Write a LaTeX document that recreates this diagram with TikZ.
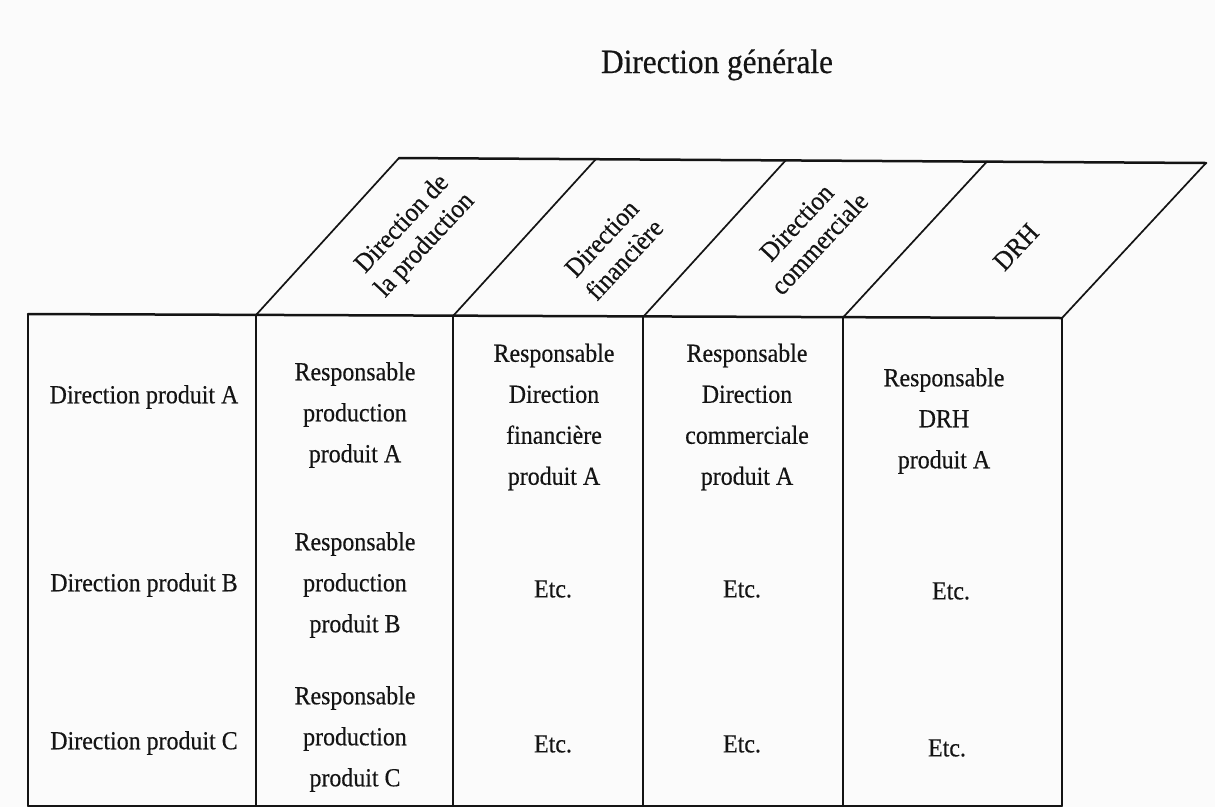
\documentclass[tikz,border=0pt]{standalone}
\usepackage{fontspec}
\setmainfont{Liberation Serif}[FakeStretch=0.92, FakeBold=0.4]
\definecolor{ink}{HTML}{141414}
\definecolor{paper}{HTML}{FBFBFB}
\begin{document}
\begin{tikzpicture}[x=1pt,y=-1pt,
  frame/.style={line width=1.7pt, draw=ink, line cap=round},
  edge/.style={line width=2.5pt, draw=ink, line cap=round},
  cell/.style={align=center, font=\fontsize{26}{41}\selectfont, text=ink, inner sep=0pt},
  head/.style={align=center, font=\fontsize{27}{31}\selectfont, text=ink, rotate=47, inner sep=0pt},
  titletext/.style={font=\fontsize{34}{40}\selectfont, text=ink, inner sep=0pt, anchor=base}]
% page
\fill[paper] (0,0) rectangle (1215,807);
\useasboundingbox (0,0) rectangle (1215,807);

% corners of the table front (top edge) and of the slanted top face
\coordinate (b0) at (28,314);
\coordinate (b1) at (256,315);
\coordinate (b2) at (453,316);
\coordinate (b3) at (643,317);
\coordinate (b4) at (843,317.5);
\coordinate (b5) at (1062,318);
\coordinate (t1) at (399,158);
\coordinate (t2) at (596,159);
\coordinate (t3) at (786,160);
\coordinate (t4) at (987,161.5);
\coordinate (t5) at (1206,163);
% lower ends of the column rules
\coordinate (d0) at (28,806);
\coordinate (d1) at (256,806);
\coordinate (d2) at (453,806);
\coordinate (d3) at (643,806);
\coordinate (d4) at (843,806);
\coordinate (d5) at (1062,806);

% column rules
\foreach \i in {0,...,5} {\draw[frame] (b\i) -- (d\i);}
\draw[frame] (d0) -- (d5);
% slanted top face
\foreach \i in {1,...,5} {\draw[frame] (b\i) -- (t\i);}
\draw[edge] (t1) -- (t5);
\draw[edge] (b0) -- (b5);

% title
\node[titletext] (dg) at (717,73) {Direction générale};

% function headers on the top face
\node[head] (hprod) at (414,235) {Direction de\\la production};
\node[head] (hfin)  at (613,249) {Direction\\financière};
\node[head] (hcom)  at (808,233) {Direction\\commerciale};
\node[head] (hdrh)  at (1016,247) {DRH};

% product lines
\node[cell] (pa) at (144,397) {Direction produit A};
\node[cell] (pb) at (144,585) {Direction produit B};
\node[cell] (pc) at (144,743) {Direction produit C};

% production column
\node[cell] (ra1) at (355,415) {Responsable\\production\\produit A};
\node[cell] (rb1) at (355,585) {Responsable\\production\\produit B};
\node[cell] (rc1) at (355,739) {Responsable\\production\\produit C};

% finance column
\node[cell] (ra2) at (554,417) {Responsable\\Direction\\financière\\produit A};
\node[cell] (rb2) at (553,589) {Etc.};
\node[cell] (rc2) at (553,744) {Etc.};

% sales column
\node[cell] (ra3) at (747,417) {Responsable\\Direction\\commerciale\\produit A};
\node[cell] (rb3) at (742,589) {Etc.};
\node[cell] (rc3) at (742,744) {Etc.};

% HR column
\node[cell] (ra4) at (944,421) {Responsable\\DRH\\produit A};
\node[cell] (rb4) at (951,591) {Etc.};
\node[cell] (rc4) at (947,748) {Etc.};
\end{tikzpicture}
\end{document}
